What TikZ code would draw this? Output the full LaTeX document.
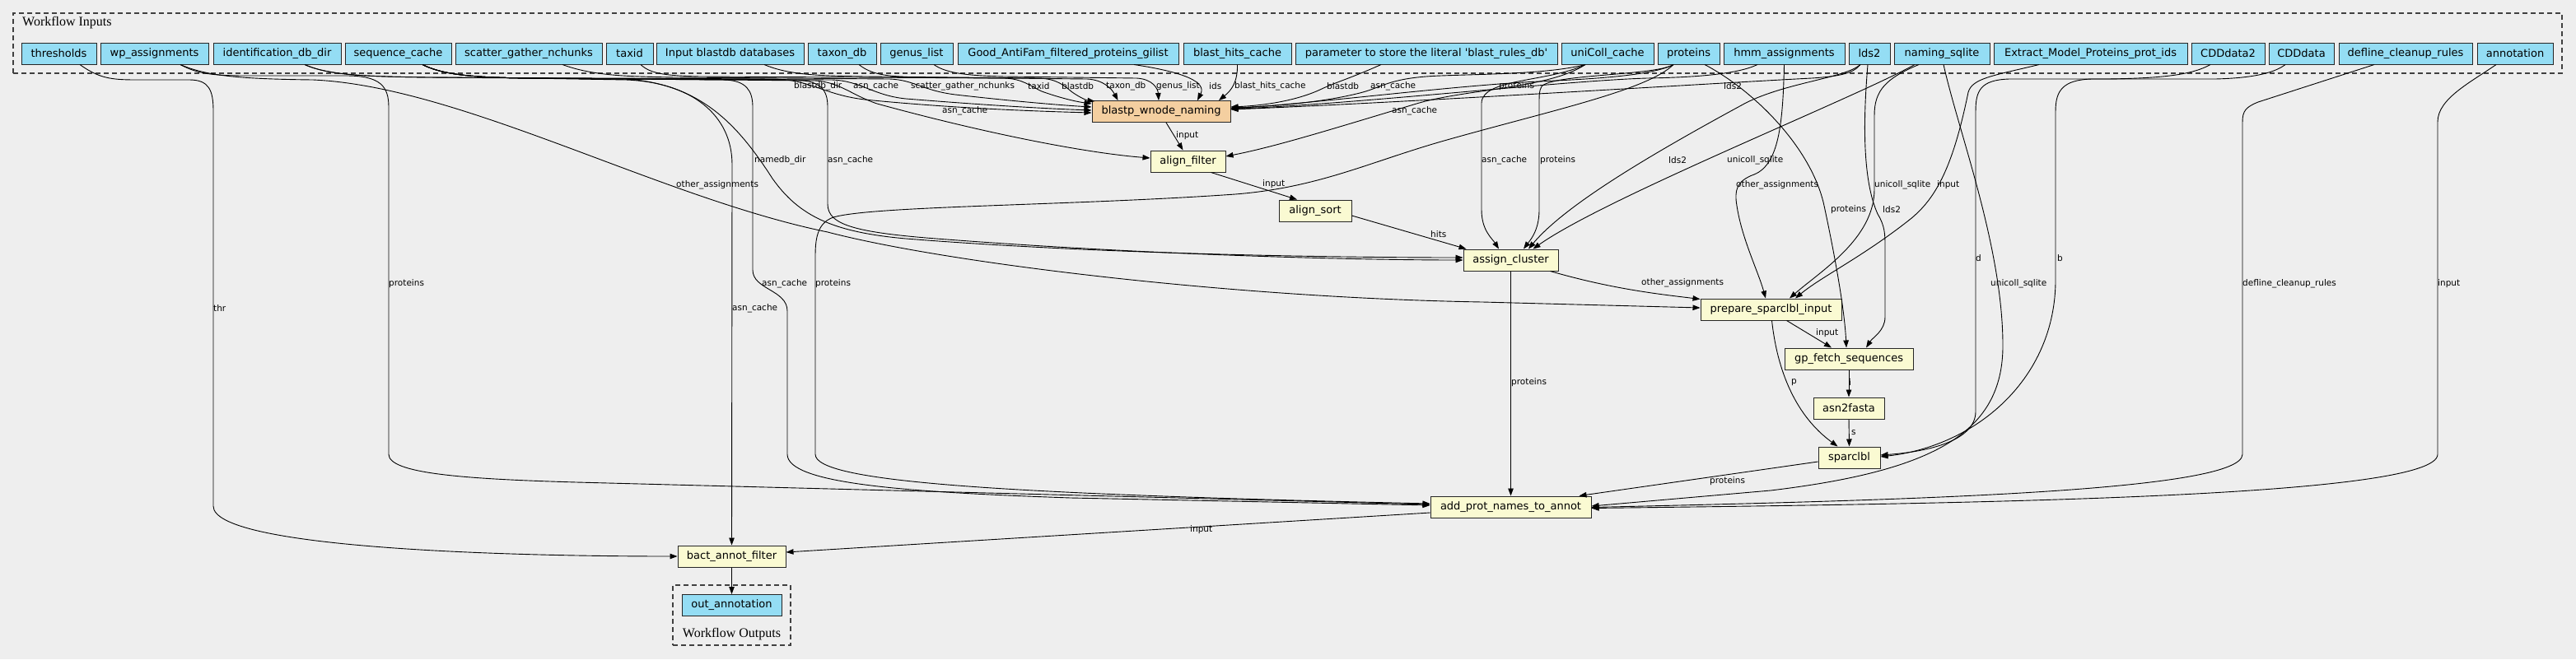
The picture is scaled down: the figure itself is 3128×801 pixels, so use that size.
\documentclass[tikz,border=0pt]{standalone}
\usepackage{fontspec}
\newfontfamily\nodefont{DejaVu Sans}
\newfontfamily\serfont{Liberation Serif}
\usetikzlibrary{arrows.meta}
\definecolor{bgc}{RGB}{238,238,238}
\definecolor{inc}{RGB}{148,221,244}
\definecolor{stc}{RGB}{250,250,210}
\definecolor{orc}{RGB}{244,207,160}
\tikzset{
  inp/.style={draw=black!85, line width=1pt, fill=inc, minimum height=26pt, inner sep=0pt, font=\nodefont\fontsize{13}{15}\selectfont},
  stp/.style={draw=black!85, line width=1pt, fill=stc, minimum height=26pt, inner sep=0pt, font=\nodefont\fontsize{13}{15}\selectfont},
  edge/.style={line width=0.9pt, -{Triangle[length=9pt,width=6.5pt]}},
  lbl/.style={anchor=west, inner sep=0pt, font=\nodefont\fontsize{10.5}{12}\selectfont},
  grp/.style={draw=black!75, dash pattern=on 6pt off 4pt, line width=1.1pt, inner sep=0pt},
  grplbl/.style={inner sep=0pt, font=\serfont\fontsize{16}{18}\selectfont}
}
\begin{document}
\begin{tikzpicture}[x=1pt,y=-1pt]
\fill[bgc] (0,0) rectangle (3128,801);
\useasboundingbox (0,0) rectangle (3128,801);
% groups
\node[grp, minimum width=3095pt, minimum height=73pt] (inbox) at (1563.5,52.5) {};
\node[grplbl, anchor=west] (wfi) at (27,28) {Workflow Inputs};
\node[grp, minimum width=143pt, minimum height=73pt] (outbox) at (888.5,747.5) {};
\node[grplbl] (wfo) at (888.5,771) {Workflow Outputs};
% inputs
\node[inp, minimum width=91pt] (thr) at (71.5,65) {thresholds};
\node[inp, minimum width=131pt] (wp) at (187.5,65) {wp\_assignments};
\node[inp, minimum width=155pt] (ident) at (336.5,65) {identification\_db\_dir};
\node[inp, minimum width=129pt] (seq) at (483.5,65) {sequence\_cache};
\node[inp, minimum width=178pt] (scat) at (642,65) {scatter\_gather\_nchunks};
\node[inp, minimum width=57pt] (taxid) at (764.5,65) {taxid};
\node[inp, minimum width=179pt] (ibd) at (886.5,65) {Input blastdb databases};
\node[inp, minimum width=83pt] (taxon) at (1022.5,65) {taxon\_db};
\node[inp, minimum width=88pt] (genus) at (1113,65) {genus\_list};
\node[inp, minimum width=268pt] (good) at (1297,65) {Good\_AntiFam\_filtered\_proteins\_gilist};
\node[inp, minimum width=131pt] (bhc) at (1502.5,65) {blast\_hits\_cache};
\node[inp, minimum width=318pt] (param) at (1732,65) {parameter to store the literal \textquotesingle blast\_rules\_db\textquotesingle};
\node[inp, minimum width=112pt] (unic) at (1952,65) {uniColl\_cache};
\node[inp, minimum width=75pt] (prot) at (2050.5,65) {proteins};
\node[inp, minimum width=147pt] (hmm) at (2166.5,65) {hmm\_assignments};
\node[inp, minimum width=50pt] (lds) at (2270,65) {lds2};
\node[inp, minimum width=116pt] (nam) at (2358,65) {naming\_sqlite};
\node[inp, minimum width=235pt] (ext) at (2538.5,65) {Extract\_Model\_Proteins\_prot\_ids};
\node[inp, minimum width=89pt] (cdd2) at (2705.5,65) {CDDdata2};
\node[inp, minimum width=79pt] (cdd) at (2794.5,65) {CDDdata};
\node[inp, minimum width=162pt] (def) at (2921,65) {defline\_cleanup\_rules};
\node[inp, minimum width=92pt] (ann) at (3054,65) {annotation};
% steps
\node[stp, fill=orc, minimum width=168pt] (bl) at (1410,135.5) {blastp\_wnode\_naming};
\node[stp, minimum width=91pt] (af) at (1442.5,196) {align\_filter};
\node[stp, minimum width=88pt] (as) at (1597,256) {align\_sort};
\node[stp, minimum width=115pt] (ac) at (1834.5,316) {assign\_cluster};
\node[stp, minimum width=171pt] (ps) at (2150.5,376) {prepare\_sparclbl\_input};
\node[stp, minimum width=156pt] (gf) at (2245,436) {gp\_fetch\_sequences};
\node[stp, minimum width=86pt] (a2f) at (2245,496) {asn2fasta};
\node[stp, minimum width=75pt] (sp) at (2245.5,556) {sparclbl};
\node[stp, minimum width=195pt] (ap) at (1834.5,616) {add\_prot\_names\_to\_annot};
\node[stp, minimum width=131pt] (bf) at (888.5,676) {bact\_annot\_filter};
\node[inp, minimum width=121pt] (oa) at (888.5,735.5) {out\_annotation};
% edges
\draw[edge] ([xshift=25.5pt]thr.south) .. controls (120,95) and (135,97) .. (165,97) -- (230,97) .. controls (254,97) and (259,110) .. (259,135) -- (259,615) .. controls (259,665) and (600,676) .. (bf.west);
\draw[edge] ([xshift=31.5pt]wp.south) .. controls (240,90) and (260,92) .. (300,92) -- (420,92) .. controls (462,92) and (472,105) .. (472,130) -- (472,552) .. controls (472,575) and (560,582) .. (700,586) -- ([yshift=3pt]ap.west);
\draw[edge] ([xshift=31.5pt]wp.south) .. controls (250,92) and (290,96) .. (380,97) .. controls (560,105) and (800,240) .. (1005,282) .. controls (1150,320) and (1500,362) .. (1800,367) -- ([yshift=2pt]ps.west);
\draw[edge] ([xshift=33.5pt]ident.south) .. controls (400,92) and (450,93) .. (520,94) -- (760,96) .. controls (850,102) and (895,150) .. (938,217) .. controls (970,262) and (1010,282) .. (1100,290) .. controls (1350,310) and (1650,313) .. ([yshift=3pt]ac.west);
\draw[edge] ([xshift=29.5pt]seq.south) .. controls (540,92) and (580,94) .. (640,95) -- (960,97) .. controls (996,97) and (1005,108) .. (1005,130) -- (1005,248) .. controls (1005,274) and (1040,283) .. (1150,291) .. controls (1400,310) and (1650,316) .. (ac.west);
\draw[edge] ([xshift=29.5pt]seq.south) .. controls (540,92) and (580,94) .. (640,95) -- (760,97) .. controls (840,100) and (889,140) .. (889,200) -- (bf.north);
\draw[edge] ([xshift=29.5pt]seq.south) .. controls (540,92) and (580,94) .. (640,95) -- (880,97) .. controls (906,98) and (914,110) .. (914,130) -- (914,328) .. controls (914,352) and (956,352) .. (956,378) -- (956,552) .. controls (956,588) and (1100,598) .. (1300,605) -- ([yshift=2pt]ap.west);
\draw[edge] ([xshift=-18.5pt]prot.south) .. controls (2000,110) and (1880,135) .. (1750,172) .. controls (1660,198) and (1600,228) .. (1500,236) .. controls (1300,250) and (1060,250) .. (1012,264) .. controls (995,270) and (990,285) .. (990,310) -- (990,552) .. controls (990,585) and (1200,600) .. ([yshift=4pt]ap.west);
\draw[edge] ([xshift=33.5pt]ident.south) .. controls (400,92) and (450,93) .. (520,94) -- (940,96) .. controls (985,97) and (1000,115) .. (1050,121) .. controls (1150,131) and (1250,135) .. ([yshift=-1.5pt]bl.west);
\draw[edge] ([xshift=29.5pt]seq.south) .. controls (540,92) and (580,94) .. (640,95) -- (1010,97) .. controls (1045,98) and (1060,116) .. (1100,120) .. controls (1200,128) and (1270,132) .. ([yshift=1.5pt]bl.west);
\draw[edge] ([xshift=41pt]scat.south) .. controls (720,92) and (760,93) .. (820,94) -- (1080,96) .. controls (1110,97) and (1120,110) .. (1160,115) .. controls (1230,123) and (1290,128) .. ([yshift=5.5pt]bl.west);
\draw[edge] ([xshift=13.5pt]taxid.south) .. controls (790,90) and (810,92) .. (850,93) -- (1220,95) .. controls (1242,96) and (1250,104) .. (1265,111) .. controls (1290,120) and (1310,124) .. ([yshift=9.5pt]bl.west);
\draw[edge] ([xshift=41.5pt]ibd.south) .. controls (960,92) and (1000,92) .. (1050,93) -- (1262,95) .. controls (1284,96) and (1292,104) .. (1302,112) .. controls (1312,119) and (1320,122) .. ([xshift=4pt,yshift=-1pt]bl.north west);
\draw[edge] ([xshift=20.5pt]taxon.south) .. controls (1060,92) and (1080,93) .. (1120,94) -- (1320,96) .. controls (1340,97) and (1350,108) .. ([xshift=32pt]bl.north west);
\draw[edge] ([xshift=21pt]genus.south) .. controls (1150,90) and (1180,92) .. (1220,93) -- (1380,95) .. controls (1400,96) and (1406,108) .. ([xshift=-3pt]bl.north);
\draw[edge] ([xshift=80pt]good.south) .. controls (1440,88) and (1465,100) .. ([xshift=44pt]bl.north);
\draw[edge] (bhc.south) .. controls (1503,100) and (1495,110) .. ([xshift=70pt]bl.north);
\draw[edge] ([xshift=-55pt]param.south) .. controls (1640,95) and (1622,100) .. (1605,108) .. controls (1578,121) and (1540,128) .. ([yshift=5.5pt]bl.east);
\draw[edge] ([xshift=-27pt]unic.south) .. controls (1880,90) and (1800,90) .. (1750,92) .. controls (1690,94) and (1680,105) .. (1655,112) .. controls (1610,124) and (1550,129) .. ([yshift=4.5pt]bl.east);
\draw[edge] ([xshift=-18.5pt]prot.south) .. controls (2000,95) and (1900,97) .. (1850,100) .. controls (1750,106) and (1600,125) .. ([yshift=3.5pt]bl.east);
\draw[edge] ([xshift=-32.5pt]hmm.south) .. controls (2110,90) and (2060,94) .. (2000,95) .. controls (1900,98) and (1650,126) .. ([yshift=3pt]bl.east);
\draw[edge] ([xshift=-11pt]lds.south) .. controls (2250,90) and (2230,93) .. (2200,95) .. controls (2100,100) and (1700,125) .. ([yshift=2.5pt]bl.east);
\draw[edge] ([xshift=6pt]bl.south) -- ([xshift=-6pt]af.north);
\draw[edge] ([xshift=29.5pt]seq.south) .. controls (540,92) and (580,94) .. (640,95) -- (990,98) .. controls (1020,100) and (1035,116) .. (1065,126) .. controls (1200,163) and (1320,186) .. ([yshift=4pt]af.west);
\draw[edge] ([xshift=-27pt]unic.south) .. controls (1880,108) and (1780,108) .. (1720,126) .. controls (1620,156) and (1550,178) .. ([yshift=6pt]af.east);
\draw[edge] ([xshift=28pt]af.south) -- ([xshift=-22pt]as.north);
\draw[edge] ([yshift=-6pt]as.east) -- ([xshift=4pt]ac.north west);
\draw[edge] ([xshift=-27pt]unic.south) .. controls (1880,100) and (1800,95) .. (1799,125) -- (1799,255) .. controls (1799,280) and (1812,290) .. ([xshift=-14.5pt]ac.north);
\draw[edge] ([xshift=-18.5pt]prot.south) .. controls (2010,92) and (1885,90) .. (1872,105) .. controls (1869,110) and (1869,115) .. (1869,125) -- (1869,255) .. controls (1869,280) and (1858,292) .. ([xshift=15.5pt]ac.north);
\draw[edge] ([xshift=-11pt]lds.south) .. controls (2240,95) and (2170,100) .. (2120,125) .. controls (2000,190) and (1900,250) .. ([xshift=21.5pt]ac.north);
\draw[edge] ([xshift=-33pt]nam.south) .. controls (2250,120) and (1950,240) .. ([xshift=27pt]ac.north);
\draw[edge] (hmm.south) .. controls (2165,150) and (2160,200) .. (2130,212) .. controls (2108,220) and (2106,232) .. (2109,250) .. controls (2115,290) and (2135,330) .. ([xshift=-6.5pt]ps.north);
\draw[edge] ([xshift=-28pt]nam.south) .. controls (2290,95) and (2276,110) .. (2276,140) -- (2276,230) .. controls (2276,290) and (2210,330) .. ([xshift=22.5pt]ps.north);
\draw[edge] ([xshift=-62.5pt]ext.south) .. controls (2420,92) and (2395,95) .. (2390,112) .. controls (2372,200) and (2352,240) .. (2320,266) .. controls (2262,312) and (2212,336) .. ([xshift=29.5pt]ps.north);
\draw[edge] ([xshift=2pt]nam.south) .. controls (2378,160) and (2432,300) .. (2432,420) .. controls (2432,525) and (2350,572) .. (2150,596) -- ([yshift=1pt]ap.east);
\draw[edge] ([xshift=-21.5pt]cdd2.south) .. controls (2660,92) and (2620,95) .. (2560,96) -- (2440,96) .. controls (2405,97) and (2399,110) .. (2399,135) -- (2399,500) .. controls (2399,536) and (2340,549) .. ([yshift=3pt]sp.east);
\draw[edge] ([xshift=-19.5pt]cdd.south) .. controls (2760,90) and (2730,95) .. (2690,96) -- (2540,96) .. controls (2505,97) and (2496,110) .. (2496,135) -- (2496,340) .. controls (2496,460) and (2400,542) .. ([yshift=1pt]sp.east);
\draw[edge] ([xshift=-38pt]def.south) -- (2742,124) .. controls (2727,130) and (2723,135) .. (2723,148) -- (2723,552) .. controls (2723,598) and (2300,608) .. ([yshift=-0.5pt]ap.east);
\draw[edge] ([xshift=-23pt]ann.south) .. controls (3000,100) and (2960,120) .. (2960,148) -- (2960,552) .. controls (2960,604) and (2400,612) .. ([yshift=-1.5pt]ap.east);
\draw[edge] ([xshift=48pt]ac.south) .. controls (1960,352) and (2020,358) .. ([yshift=-1pt]ps.north west);
\draw[edge] (ac.south) -- (ap.north);
\draw[edge] ([xshift=19pt]ps.south) -- ([xshift=-21pt]gf.north);
\draw[edge] ([xshift=1pt]ps.south) .. controls (2158,450) and (2180,505) .. ([xshift=-14pt]sp.north);
\draw[edge] (gf.south) -- (a2f.north);
\draw[edge] (a2f.south) -- (sp.north);
\draw[edge] ([xshift=19.5pt]prot.south) .. controls (2130,110) and (2200,180) .. (2215,250) .. controls (2230,320) and (2240,380) .. ([xshift=-3pt]gf.north);
\draw[edge] ([xshift=-2pt]lds.south) .. controls (2262,150) and (2262,220) .. (2280,260) .. controls (2289,275) and (2289,285) .. (2289,300) -- (2289,385) .. controls (2289,402) and (2274,410) .. ([xshift=21pt]gf.north);
\draw[edge] ([yshift=-5pt]sp.west) -- ([xshift=-15pt]ap.north east);
\draw[edge] ([yshift=-7pt]ap.west) -- ([yshift=5pt]bf.east);
\draw[edge] (bf.south) -- (oa.north);
% labels
\node[lbl] (l1) at (964,105) {blastdb\_dir};
\node[lbl] (l2) at (1036,105) {asn\_cache};
\node[lbl] (l3) at (1106,105) {scatter\_gather\_nchunks};
\node[lbl] (l4) at (1248,105) {taxid};
\node[lbl] (l5) at (1289,105) {blastdb};
\node[lbl] (l6) at (1343,105) {taxon\_db};
\node[lbl] (l7) at (1404,105) {genus\_list};
\node[lbl] (l8) at (1468,105) {ids};
\node[lbl] (l9) at (1499,105) {blast\_hits\_cache};
\node[lbl] (l10) at (1611,105) {blastdb};
\node[lbl] (l11) at (1664,105) {asn\_cache};
\node[lbl] (l12) at (1820,105) {proteins};
\node[lbl] (l13) at (2093,105) {lds2};
\node[lbl] (l14) at (1144,135) {asn\_cache};
\node[lbl] (l15) at (1690,135) {asn\_cache};
\node[lbl] (l16) at (1428,165) {input};
\node[lbl] (l17) at (916,195) {namedb\_dir};
\node[lbl] (l18) at (1005,195) {asn\_cache};
\node[lbl] (l19) at (1799,195) {asn\_cache};
\node[lbl] (l20) at (1870,195) {proteins};
\node[lbl] (l21) at (2026,195) {lds2};
\node[lbl] (l22) at (2097,195) {unicoll\_sqlite};
\node[lbl] (l23) at (1533,224) {input};
\node[lbl] (l24) at (821,225) {other\_assignments};
\node[lbl] (l25) at (2108,225) {other\_assignments};
\node[lbl] (l26) at (2276,225) {unicoll\_sqlite};
\node[lbl] (l27) at (2352,225) {input};
\node[lbl] (l28) at (2223,255) {proteins};
\node[lbl] (l29) at (2286,255) {lds2};
\node[lbl] (l30) at (1737,285) {hits};
\node[lbl] (l31) at (2399,314) {d};
\node[lbl] (l32) at (2498,314) {b};
\node[lbl] (l33) at (472,345) {proteins};
\node[lbl] (l34) at (925,345) {asn\_cache};
\node[lbl] (l35) at (990,345) {proteins};
\node[lbl] (l36) at (1993,344) {other\_assignments};
\node[lbl] (l37) at (2417,345) {unicoll\_sqlite};
\node[lbl] (l38) at (2723,345) {defline\_cleanup\_rules};
\node[lbl] (l39) at (2960,345) {input};
\node[lbl] (l40) at (259,375) {thr};
\node[lbl] (l41) at (889,375) {asn\_cache};
\node[lbl] (l42) at (2205,405) {input};
\node[lbl] (l43) at (1835,465) {proteins};
\node[lbl] (l44) at (2175,465) {p};
\node[lbl] (l45) at (2245,465) {i};
\node[lbl] (l46) at (2248,526) {s};
\node[lbl] (l47) at (2076,585) {proteins};
\node[lbl] (l48) at (1445,644) {input};
\end{tikzpicture}
\end{document}
